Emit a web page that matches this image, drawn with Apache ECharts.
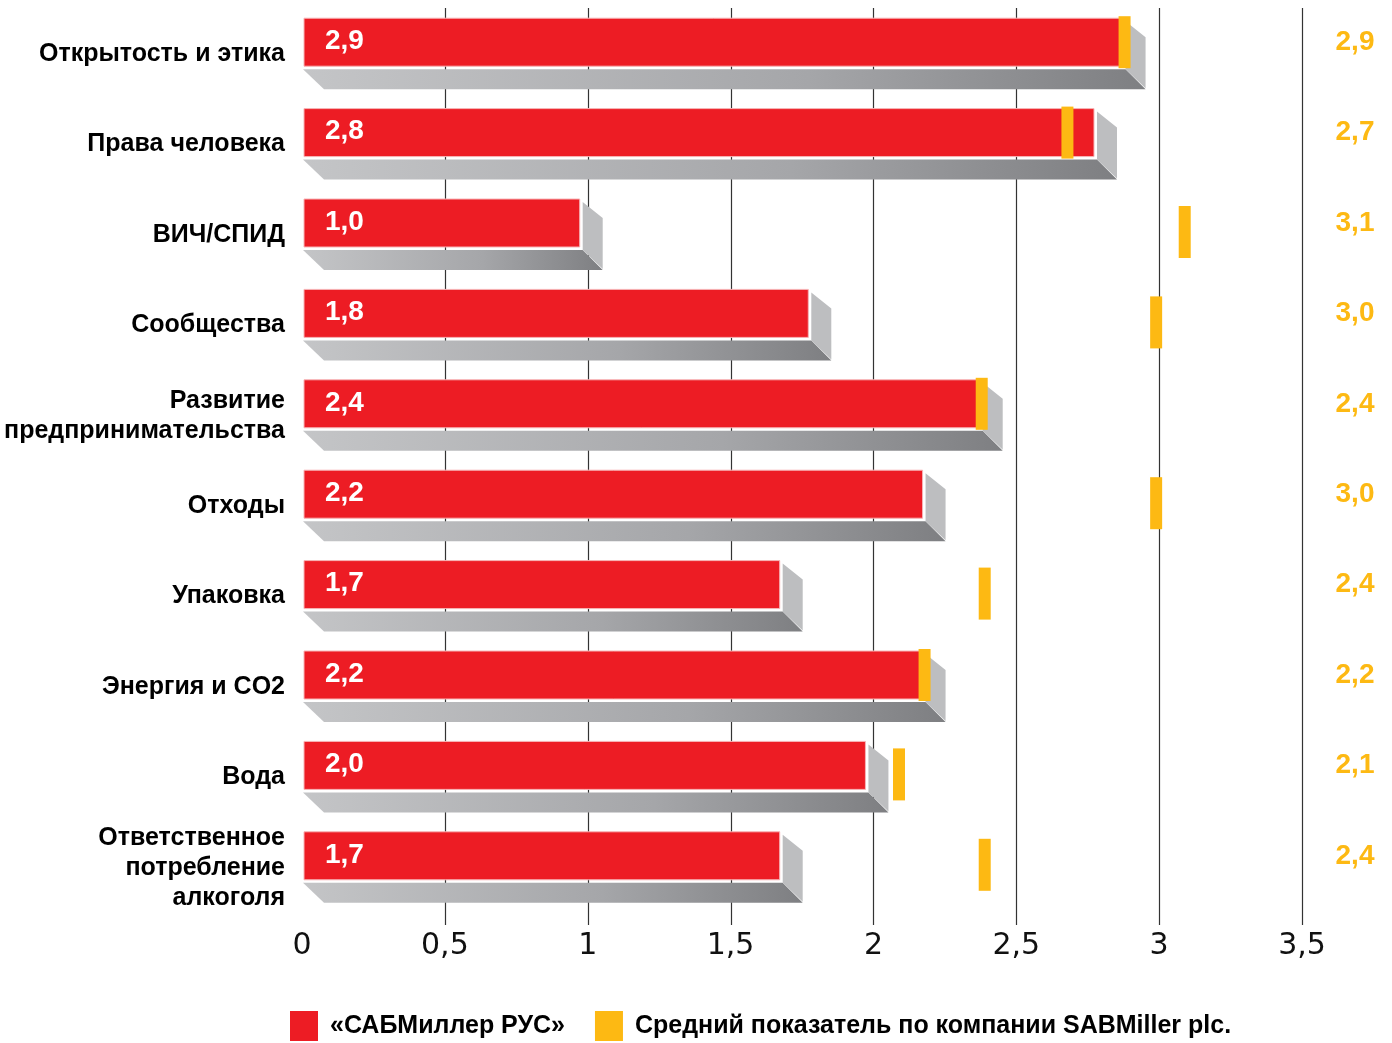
<!DOCTYPE html>
<html><head><meta charset="utf-8">
<script src="https://cdn.jsdelivr.net/npm/echarts@6/dist/echarts.min.js"></script>
<style>html,body{margin:0;padding:0;background:#fff}#c{width:1392px;height:1043px}</style>
</head><body><div id="c"></div>
<script>
const categories = ['Открытость и этика','Права человека','ВИЧ/СПИД','Сообщества','Развитие\nпредпринимательства','Отходы','Упаковка','Энергия и CO2','Вода','Ответственное\nпотребление\nалкоголя'];
const rusValues = [2.9, 2.8, 1.0, 1.8, 2.4, 2.2, 1.7, 2.2, 2.0, 1.7];
const plcValues = [2.9, 2.7, 3.1, 3.0, 2.4, 3.0, 2.4, 2.2, 2.1, 2.4];
const xTicks = [0, 0.5, 1, 1.5, 2, 2.5, 3, 3.5];
const seriesNames = ['«САБМиллер РУС»', 'Средний показатель по компании SABMiller plc.'];

const RED = '#ED1C24', ORANGE = '#FDB913';
const fmt = v => v.toFixed(1).replace('.', ',');
const fmtTick = v => String(v).replace('.', ',');

const chart = echarts.init(document.getElementById('c'));
chart.setOption({
  animation: false,
  grid: { left: 302, right: 90, top: 9, height: 904 },
  xAxis: {
    type: 'value', min: 0, max: 3.5, interval: 0.5,
    axisLine: { show: false }, axisTick: { show: false }, splitLine: { show: false },
    axisLabel: { fontSize: 30, color: '#111', fontFamily: "'DejaVu Sans', Verdana, sans-serif", margin: 18, formatter: fmtTick }
  },
  yAxis: {
    type: 'category', inverse: true,
    data: categories.map(c => c.indexOf('\n') >= 0 ? { value: c, textStyle: { padding: [0, 0, 12, 0] } } : c),
    axisLine: { show: false }, axisTick: { show: false }, splitLine: { show: false },
    axisLabel: { fontSize: 25, fontWeight: 'bold', color: '#000', margin: 17, lineHeight: 30, fontFamily: 'Liberation Sans', align: 'right' }
  },
  legend: {
    left: 290, top: 1011, padding: 0, itemWidth: 28, itemHeight: 30, itemGap: 30, icon: 'rect',
    data: seriesNames,
    textStyle: { fontSize: 25, fontWeight: 'bold', fontFamily: 'Liberation Sans', color: '#000', padding: [3, 0, 0, 7] }
  },
  series: [
    {
      type: 'custom', z: 1, silent: true,
      data: xTicks.map(t => [t, 0]),
      encode: { x: 0, y: 1 },
      renderItem: (params, api) => {
        const t = api.value(0);
        if (t === 0) return null;
        const x = Math.round(api.coord([t, 0])[0]) + 0.5;
        const cs = params.coordSys;
        return { type: 'line', shape: { x1: x, y1: cs.y - 1, x2: x, y2: cs.y + cs.height + 12 }, style: { stroke: '#333', lineWidth: 1.2 } };
      }
    },
    {
      name: seriesNames[0], type: 'custom', z: 2,
      itemStyle: { color: RED },
      data: rusValues.map((v, i) => [v, i]),
      encode: { x: 0, y: 1 },
      renderItem: (params, api) => {
        const v = api.value(0), i = api.value(1);
        const p0 = api.coord([0, i]), p1 = api.coord([v, i]);
        const cy = p0[1];
        const x0 = p0[0] + 2, xe = p1[0] - 8;
        const yT = cy - 36, yB = cy + 12, g = 3, D = 20;
        return {
          type: 'group', children: [
            { type: 'polygon', shape: { points: [[x0 - 1, yB + g], [xe + g, yB + g], [xe + g + D, yB + g + D], [x0 + D, yB + g + D]] },
              style: { fill: new echarts.graphic.LinearGradient(0, 0, 1, 0, [{ offset: 0, color: '#C4C5C7' }, { offset: 0.6, color: '#A5A6A9' }, { offset: 1, color: '#7E7F82' }]) } },
            { type: 'polygon', shape: { points: [[xe + g, yT + g], [xe + g + D, yT + g + D - 4], [xe + g + D, yB + g + D - 1], [xe + g, yB + g]] },
              style: { fill: '#BDBEC0' } },
            { type: 'rect', shape: { x: x0, y: yT, width: xe - x0, height: yB - yT }, style: { fill: RED, stroke: '#F7B5B7', lineWidth: 1 } },
            { type: 'text', style: { text: fmt(v), x: x0 + 21, y: cy - 13, verticalAlign: 'middle', align: 'left', fill: '#fff', fontSize: 28, fontWeight: 'bold', fontFamily: 'Liberation Sans' } }
          ]
        };
      }
    },
    {
      name: seriesNames[1], type: 'custom', z: 3,
      itemStyle: { color: ORANGE },
      data: plcValues.map((v, i) => [v, i]),
      encode: { x: 0, y: 1 },
      renderItem: (params, api) => {
        const a = api.value(0), i = api.value(1);
        const p = api.coord([a, i]);
        const rc = p[1] - 12;
        const overlap = a <= rusValues[params.dataIndex] + 1e-9;
        const mc = overlap ? rc : rc + 9;
        const xc = p[0] - (overlap ? 6 : 3);
        const cs = params.coordSys;
        return {
          type: 'group', children: [
            { type: 'rect', shape: { x: xc - 6, y: mc - 26, width: 12, height: 52 }, style: { fill: ORANGE } },
            { type: 'text', style: { text: fmt(a), x: cs.x + cs.width + 53, y: rc, align: 'center', verticalAlign: 'middle', fill: ORANGE, fontSize: 28, fontWeight: 'bold', fontFamily: 'Liberation Sans' } }
          ]
        };
      }
    }
  ]
});
</script></body></html>
